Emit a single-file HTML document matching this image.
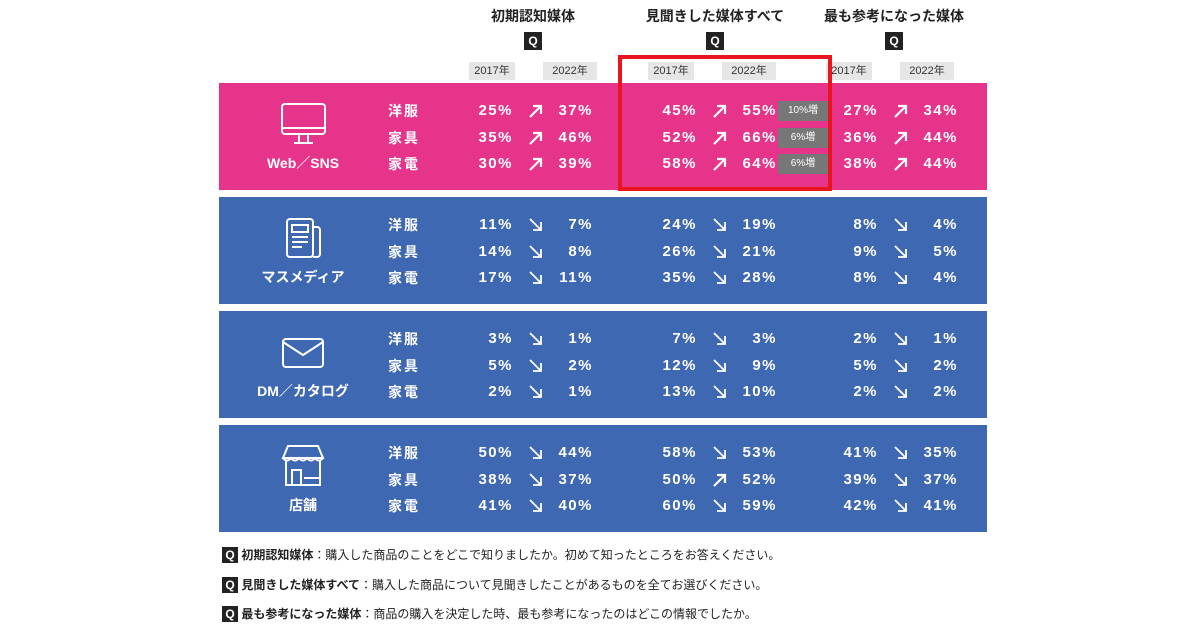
<!DOCTYPE html>
<html><head><meta charset="utf-8">
<style>
body{margin:0;width:1200px;height:630px;background:#fff;position:relative;overflow:hidden;font-family:"Liberation Sans","Noto Sans CJK JP",sans-serif;}
.a{position:absolute;white-space:nowrap}
.title{font-size:14px;font-weight:bold;color:#222;transform:translateX(-50%)}
.q{width:18px;height:18px;background:#222;color:#fff;font-size:12px;font-weight:bold;text-align:center;line-height:18px}
.yr{background:#e6e6e6;color:#333;font-size:11px;height:18px;line-height:18px;text-align:center}
.band{left:219px;width:768px;height:107px}
.cat{font-size:14px;font-weight:bold;color:#fff;transform:translateX(-50%)}
.rl{font-size:14px;color:#fff;font-weight:bold;letter-spacing:2px;line-height:18px}
.v{font-size:15px;font-weight:bold;color:#fff;text-align:right;width:60px;letter-spacing:1.5px;line-height:18px}
.badge{background:#777;color:#fff;font-size:10px;width:50px;height:20px;line-height:20px;text-align:center}
.fn{font-size:12px;color:#222}
.fn b{font-weight:bold}
</style></head><body>
<div id="root"></div>
<div class="a" style="left:618px;top:55px;width:206px;height:128px;border:4px solid #e8141e;"></div>
<div class="a fn" style="left:222px;top:546px"><span class="q" style="display:inline-block;width:16px;height:16px;line-height:16px">Q</span> <b>初期認知媒体</b>：購入した商品のことをどこで知りましたか。初めて知ったところをお答えください。</div>
<div class="a fn" style="left:222px;top:576px"><span class="q" style="display:inline-block;width:16px;height:16px;line-height:16px">Q</span> <b>見聞きした媒体すべて</b>：購入した商品について見聞きしたことがあるものを全てお選びください。</div>
<div class="a fn" style="left:222px;top:605px"><span class="q" style="display:inline-block;width:16px;height:16px;line-height:16px">Q</span> <b>最も参考になった媒体</b>：商品の購入を決定した時、最も参考になったのはどこの情報でしたか。</div>
<script>
const questions=["初期認知媒体","見聞きした媒体すべて","最も参考になった媒体"];
const years=["2017年","2022年"];
const categories=["Web／SNS","マスメディア","DM／カタログ","店舗"];
const products=["洋服","家具","家電"];
const v2017=[[[25,35,30],[45,52,58],[27,36,38]],[[11,14,17],[24,26,35],[8,9,8]],[[3,5,2],[7,12,13],[2,5,2]],[[50,38,41],[58,50,60],[41,39,42]]];
const v2022=[[[37,46,39],[55,66,64],[34,44,44]],[[7,8,11],[19,21,28],[4,5,4]],[[1,2,1],[3,9,10],[1,2,2]],[[44,37,40],[53,52,59],[35,37,41]]];
const badges=["10%増","6%増","6%増"];
const titleX=[533,715,894];
const colX=[533,717,898];
const yearX=[533,712,890];
const bandTop=[83,197,311,425];
const icons=[
'<rect x="2" y="2" width="43" height="30" rx="3" fill="none" stroke="#fff" stroke-width="2"/><line x1="2" y1="26" x2="45" y2="26" stroke="#fff" stroke-width="2"/><path d="M19 32v8M28 32v8M14 41h19" stroke="#fff" stroke-width="2" fill="none"/>',
'<rect x="7" y="3" width="26" height="38" rx="3" fill="none" stroke="#fff" stroke-width="2"/><path d="M33 11h4a3 3 0 0 1 3 3v24a3 3 0 0 1-3 3h-4" fill="none" stroke="#fff" stroke-width="2"/><rect x="12" y="9" width="16" height="7" fill="none" stroke="#fff" stroke-width="2"/><path d="M12 21h16M12 26h16M12 31h10" stroke="#fff" stroke-width="2"/>',
'<rect x="3" y="9" width="40" height="28" rx="3" fill="none" stroke="#fff" stroke-width="2"/><path d="M3 12l20 13 20-13" fill="none" stroke="#fff" stroke-width="2"/>',
'<path d="M8 2h30l5 12H3z" fill="none" stroke="#fff" stroke-width="2"/><path d="M3 14q4 5 8 0q4 5 8 0q4 5 8 0q4 5 8 0q4 5 8 0" fill="none" stroke="#fff" stroke-width="2"/><path d="M6 17v24h34V17" fill="none" stroke="#fff" stroke-width="2"/><rect x="12" y="26" width="9" height="15" fill="none" stroke="#fff" stroke-width="2"/><line x1="24" y1="34" x2="40" y2="34" stroke="#fff" stroke-width="2"/>'
];
const up='<svg width="16" height="16" viewBox="0 0 16 16"><path d="M2 14L13 3M5 3h8v8" fill="none" stroke="#fff" stroke-width="2.2"/></svg>';
const down='<svg width="16" height="16" viewBox="0 0 16 16"><path d="M2 2L13 13M13 5v8H5" fill="none" stroke="#fff" stroke-width="1.8"/></svg>';
const root=document.getElementById('root');
function mk(cls,style,html){const d=document.createElement('div');d.className='a '+cls;d.style.cssText=style;d.innerHTML=html;root.appendChild(d);return d;}
questions.forEach((q,i)=>{
 let t=mk('title','left:'+titleX[i]+'px;top:6px',q);
 
 
 let b=mk('q','left:'+(titleX[i]-9)+'px;top:32px','Q');
 
 
 years.forEach((y,j)=>{
  let e=mk('yr','left:'+(yearX[i]-64+j*74)+'px;top:62px;width:'+(j?54:46)+'px',y);
  
  
 });
});
categories.forEach((c,k)=>{
 const top=bandTop[k];
 let band=mk('band','top:'+top+'px;background:'+(k==0?'#e5348a':'#3f68b3'),'');
 
 
 let ic=mk('','left:280px;top:'+(top+19)+'px','<svg width="47" height="45" viewBox="0 0 47 45">'+icons[k]+'</svg>');
 
 
 let cl=mk('cat','left:303px;top:'+(top+70)+'px',c);
 
 
 products.forEach((p,r)=>{
  const y=top+19+r*26.5;
  let pl=mk('rl','left:388px;top:'+y+'px',p);
  
  
  for(let i=0;i<3;i++){
   const a=v2017[k][i][r],b2=v2022[k][i][r];
   let e1=mk('v','left:'+(colX[i]-80)+'px;top:'+y+'px',a+'%');
   
   
   let e2=mk('','left:'+(colX[i]-5)+'px;top:'+(y+1)+'px',b2>a?up:down);
   
   
   let e3=mk('v','left:'+(colX[i]+0)+'px;top:'+y+'px',b2+'%');
   
   
   if(k==0&&i==1){
    let bd=mk('badge','left:778px;top:'+(y-1)+'px',badges[r]);
    
    
   }
  }
 });
});
</script>
</body></html>
